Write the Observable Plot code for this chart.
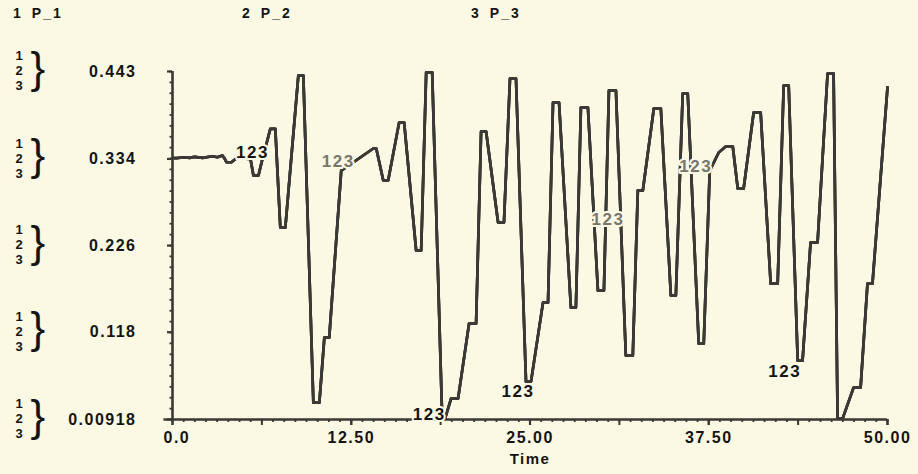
<!DOCTYPE html>
<html>
<head>
<meta charset="utf-8">
<script src="https://cdn.jsdelivr.net/npm/d3@7"></script>
<script src="https://cdn.jsdelivr.net/npm/@observablehq/plot@0.6"></script>
<style>
  html, body { margin: 0; padding: 0; background: #fbf9e3; }
  #wrap { position: relative; width: 918px; height: 474px; overflow: hidden;
          font-family: "Liberation Sans", Arial, sans-serif; }
  .leg { position: absolute; top: 5px; font-weight: bold; font-size: 14px;
         letter-spacing: 2px; color: #141414; white-space: pre; }
  .leg span.name { margin-left: 9px; }
  svg text { letter-spacing: 1.5px; }
  svg g[aria-label="key digits"] text, svg g[aria-label="key brace"] text { letter-spacing: 0; }
  svg g[aria-label="curve labels"] text, svg g[aria-label="curve labels faded"] text { letter-spacing: 2.5px; }
</style>
</head>
<body>
<div id="wrap"></div>
<script>
// ---- data ----
const seriesNames = ["P_1", "P_2", "P_3"];   // the three series overlap exactly

const time = [
  0, 0.28, 0.84, 1.19, 1.54, 2.10, 2.79, 3.14, 3.49, 3.63,
  3.77, 4.12, 4.47, 5.45, 5.66, 6.01, 6.29, 6.63, 6.84, 7.19,
  7.54, 7.89, 8.80, 9.15, 9.85, 10.27, 10.62, 10.96, 11.80, 14.04,
  14.25, 14.74, 15.08, 15.85, 16.20, 17.04, 17.39, 17.74, 18.16, 18.86,
  19.06, 19.48, 19.97, 20.74, 21.23, 21.58, 21.93, 22.77, 23.18, 23.60,
  24.02, 24.72, 25.07, 25.91, 26.26, 26.61, 27.03, 27.86, 28.21, 28.56,
  29.05, 29.75, 30.17, 30.52, 31.01, 31.70, 32.19, 32.54, 32.89, 33.66,
  34.15, 34.85, 35.20, 35.68, 36.03, 36.80, 37.15, 37.57, 38.20, 38.69,
  39.18, 39.53, 39.94, 40.64, 41.13, 41.83, 42.32, 42.74, 43.09, 43.72,
  44.06, 44.62, 45.11, 45.81, 46.23, 46.51, 46.86, 47.63, 48.12, 48.60,
  48.95, 50.00
];
const pValue = [
  0.3349, 0.3349, 0.3361, 0.3354, 0.3366, 0.3354, 0.3374, 0.3361, 0.3383, 0.3349,
  0.3299, 0.3299, 0.3349, 0.3341, 0.3133, 0.3133, 0.3341, 0.3570, 0.3715, 0.3715,
  0.2485, 0.2485, 0.4380, 0.4380, 0.0302, 0.0302, 0.1113, 0.1113, 0.3195, 0.3470,
  0.3470, 0.3071, 0.3071, 0.3794, 0.3794, 0.2198, 0.2198, 0.4418, 0.4418, 0.0103,
  0.0103, 0.0352, 0.0352, 0.1288, 0.1288, 0.3682, 0.3682, 0.2547, 0.2547, 0.4343,
  0.4343, 0.0564, 0.0564, 0.1549, 0.1549, 0.4043, 0.4043, 0.1487, 0.1487, 0.3981,
  0.3981, 0.1699, 0.1699, 0.4193, 0.4193, 0.0889, 0.0889, 0.2946, 0.2946, 0.3969,
  0.3969, 0.1637, 0.1637, 0.4156, 0.4156, 0.1038, 0.1038, 0.3195, 0.3420, 0.3495,
  0.3495, 0.2971, 0.2971, 0.3919, 0.3919, 0.1786, 0.1786, 0.4255, 0.4255, 0.0826,
  0.0826, 0.2298, 0.2298, 0.4405, 0.4405, 0.0103, 0.0103, 0.0490, 0.0490, 0.1786,
  0.1786, 0.4231
];

// "123" curve labels (dark ones and faded ones)
const darkLabelTime  = [5.59, 17.95, 24.16, 42.81];
const darkLabelValue = [0.342, 0.0153, 0.0439, 0.0689];
const lightLabelTime  = [11.59, 30.45, 36.59];
const lightLabelValue = [0.3308, 0.2584, 0.3245];

const yTickValues = [0.00918, 0.118, 0.226, 0.334, 0.443];
const yTickLabels = ["0.00918", "0.118", "0.226", "0.334", "0.443"];
const xTickValues = [0, 12.5, 25, 37.5, 50];
const xTickLabels = ["0.0", "12.50", "25.00", "37.50", "50.00"];
const xLabel = "Time";

// ---- derived tables ----
const bg = "#fbf9e3";
const ink = "#141414";
const lineInk = "#3a3934";
const faded = "#77766c";

const points = time.map((t, i) => ({t, v: pValue[i]}));
const darkLabels = darkLabelTime.map((t, i) => ({t, v: darkLabelValue[i]}));
const lightLabels = lightLabelTime.map((t, i) => ({t, v: lightLabelValue[i]}));
const xMedium = d3.range(0, 9).map(i => i * 6.25);
const xMinor = d3.range(0, 65).map(i => i * 50 / 64);
const yMinor = d3.range(0, 33).map(i => yTickValues[0] + i * (yTickValues[4] - yTickValues[0]) / 32);
const fmtY = d => yTickLabels[yTickValues.indexOf(d)];
const fmtX = d => xTickLabels[xTickValues.indexOf(d)];

const chart = Plot.plot({
  width: 918,
  height: 474,
  marginLeft: 172,
  marginRight: 31,
  marginTop: 71,
  marginBottom: 55,
  x: {domain: [0, 50]},
  y: {domain: [yTickValues[0], yTickValues[4]]},
  style: {background: "transparent", color: ink, overflow: "visible",
          fontFamily: "Liberation Sans, Arial, sans-serif"},
  marks: [
    // x axis ticks
    Plot.axisX({ticks: xMinor, tickSize: 3, text: null, label: null, stroke: lineInk, strokeWidth: 1.8}),
    Plot.axisX({ticks: xMedium, tickSize: 6, text: null, label: null, stroke: lineInk, strokeWidth: 2}),
    Plot.axisX({ticks: xTickValues, tickSize: 6, text: null, label: null, stroke: lineInk, strokeWidth: 2.2}),
    Plot.axisX({ticks: xTickValues.slice(0, 1), tickSize: 0, tickPadding: 12, tickFormat: fmtX,
                textAnchor: "start", dx: -9, fontSize: 16, fontWeight: "bold", label: null}),
    Plot.axisX({ticks: xTickValues.slice(1), tickSize: 0, tickPadding: 12, tickFormat: fmtX,
                fontSize: 16, fontWeight: "bold", label: null}),
    // y axis ticks
    Plot.axisY({ticks: yMinor, tickSize: 2.5, text: null, label: null, stroke: lineInk, strokeWidth: 1.8}),
    Plot.axisY({ticks: yTickValues, tickSize: 5, text: null, label: null, stroke: lineInk, strokeWidth: 2.2}),
    Plot.axisY({ticks: yTickValues, tickSize: 0, tickPadding: 36, tickFormat: fmtY,
                fontSize: 16, fontWeight: "bold", label: null}),
    // stacked series keys next to each y label
    Plot.text(yTickValues, {y: d => d, text: () => "1\n2\n3", frameAnchor: "left", dx: -157, dy: -1,
                            fontSize: 13, fontWeight: "bold", lineHeight: 1.16, fill: ink,
                            ariaLabel: "key digits"}),
    Plot.text(yTickValues, {y: d => d, text: () => "}", frameAnchor: "left", dx: -142, dy: -3,
                            fontSize: 44, fontWeight: "normal", fill: ink, ariaLabel: "key brace"}),
    // axis lines
    Plot.ruleX([0], {stroke: lineInk, strokeWidth: 2.6}),
    Plot.ruleY([yTickValues[0]], {x1: -0.6, x2: 50, stroke: lineInk, strokeWidth: 2.6}),
    // the series (P_1, P_2, P_3 coincide)
    ...seriesNames.map(() => Plot.line(points, {x: "t", y: "v", stroke: lineInk, strokeWidth: 2.7,
                                                 strokeLinejoin: "round"})),
    // curve labels
    Plot.text(darkLabels, {x: "t", y: "v", text: () => "123", fill: ink, stroke: bg, strokeWidth: 4,
                           fontSize: 17, fontWeight: "bold", ariaLabel: "curve labels"}),
    Plot.text(lightLabels, {x: "t", y: "v", text: () => "123", fill: faded, stroke: bg, strokeWidth: 4,
                            fontSize: 17, fontWeight: "bold", ariaLabel: "curve labels faded"}),
    // x axis title
    Plot.text([xLabel], {text: d => d, frameAnchor: "bottom", dy: 44, fontSize: 15, fontWeight: "bold", fill: ink})
  ]
});

const wrap = document.getElementById("wrap");
wrap.appendChild(chart);
seriesNames.forEach((name, i) => {
  const div = document.createElement("div");
  div.className = "leg";
  div.style.left = (13 + i * 229) + "px";
  div.innerHTML = `<span>${i + 1}</span><span class="name">${name}</span>`;
  wrap.appendChild(div);
});
</script>
</body>
</html>
